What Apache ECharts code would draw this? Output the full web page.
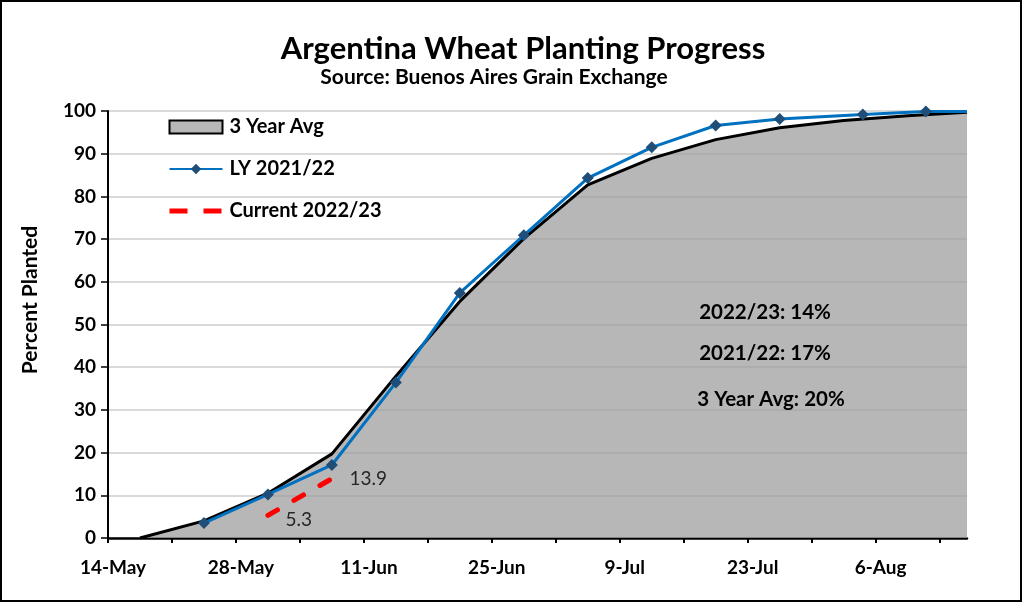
<!DOCTYPE html>
<html>
<head>
<meta charset="utf-8">
<script src="https://cdn.jsdelivr.net/npm/echarts@6/dist/echarts.min.js"></script>
<style>
  html, body { margin: 0; padding: 0; background: #fff; }
  #chart { width: 1022px; height: 602px; box-sizing: border-box; border: 2px solid #000; }
</style>
</head>
<body>
<div id="chart"></div>
<script>
// days counted from 14-May
var tickLabels = ['14-May', '28-May', '11-Jun', '25-Jun', '9-Jul', '23-Jul', '6-Aug'];

var avgDays = [3.5, 10.5, 17.5, 24.5, 31.5, 38.5, 45.5, 52.5, 59.5, 66.5, 73.5, 80.5, 87.5, 94];
var avgValues = [0, 4.0, 10.5, 19.7, 37.9, 55.4, 70.1, 82.7, 88.9, 93.3, 96.1, 97.8, 98.9, 99.7];

var lyDays = [10.5, 17.5, 24.5, 31.5, 38.5, 45.5, 52.5, 59.5, 66.5, 73.5, 82.6, 89.5, 94];
var lyValues = [3.5, 10.2, 17.1, 36.4, 57.4, 70.9, 84.3, 91.5, 96.6, 98.1, 99.2, 99.9, 99.9];

var curDays = [17.5, 24.5];
var curValues = [5.3, 13.9];

var notes = ['2022/23: 14%', '2021/22: 17%', '3 Year Avg: 20%'];

var font = 'Lato, "Liberation Sans", sans-serif';

function pairs(xs, ys) {
    var out = [];
    for (var i = 0; i < xs.length; i++) {
        out.push([xs[i], ys[i]]);
    }
    return out;
}

var lyData = pairs(lyDays, lyValues);
// last point only carries the line to the axis end
lyData[lyData.length - 1] = { value: lyData[lyData.length - 1], symbol: 'none' };

var curData = pairs(curDays, curValues);
curData[0] = { value: curData[0], label: { offset: [0, 5] } };

var tickValues = [];
var labelValues = [];
for (var i = 0; i < tickLabels.length; i++) {
    labelValues.push(i * 14);
    tickValues.push(i * 14, i * 14 + 7);
}

function note(text, x, y, size) {
    return {
        type: 'text', x: x, y: y, z: 100,
        style: { text: text, align: 'center', verticalAlign: 'middle', font: 'bold ' + size + 'px ' + font, fill: '#000' }
    };
}

var myChart = echarts.init(document.getElementById('chart'));

option = {
    animation: false,
    grid: { left: 106, right: 53, top: 109, bottom: 62 },
    legend: {
        orient: 'vertical',
        left: 165,
        top: 115,
        padding: 0,
        itemWidth: 53,
        itemHeight: 13,
        itemGap: 22,
        textStyle: { fontFamily: font, fontWeight: 'bold', fontSize: 20, color: '#000', padding: [0, 0, 0, 2] },
        data: [
            { name: '3 Year Avg', icon: 'rect', itemStyle: { color: '#b7b7b7', borderColor: '#000', borderWidth: 2 } },
            { name: 'LY 2021/22' },
            { name: 'Current 2022/23', itemStyle: { opacity: 0 }, lineStyle: { type: [18, 16], cap: 'butt', width: 5 } }
        ]
    },
    xAxis: {
        type: 'value',
        min: 0,
        max: 94,
        splitLine: { show: false },
        axisLine: { lineStyle: { color: '#000', width: 2.5 } },
        axisTick: { length: 5, lineStyle: { color: '#000', width: 2 }, customValues: tickValues },
        axisLabel: {
            customValues: labelValues,
            margin: 20,
            padding: [0, 0, 0, 10],
            fontFamily: font, fontWeight: 'bold', fontSize: 19, color: '#000',
            formatter: function (v) {
                return tickLabels[Math.round(v / 14)] || '';
            }
        }
    },
    yAxis: {
        type: 'value',
        min: 0,
        max: 100,
        interval: 10,
        axisLine: { show: true, lineStyle: { color: '#000', width: 2 } },
        axisTick: { show: true, length: 7, lineStyle: { color: '#000', width: 1.5 } },
        axisLabel: { margin: 12, fontFamily: font, fontWeight: 'bold', fontSize: 19, color: '#000' },
        splitLine: { lineStyle: { color: '#d9d9d9', width: 2 } }
    },
    series: [
        {
            name: '3 Year Avg',
            type: 'line',
            data: pairs(avgDays, avgValues),
            symbol: 'none',
            lineStyle: { color: '#000', width: 3 },
            itemStyle: { color: '#b7b7b7' },
            areaStyle: { color: 'rgb(158,158,158)', opacity: 0.74 },
            z: 1
        },
        {
            name: 'LY 2021/22',
            type: 'line',
            data: lyData,
            symbol: 'diamond',
            symbolSize: 12,
            lineStyle: { color: '#0070c0', width: 3 },
            itemStyle: { color: '#1f4e79' },
            z: 3
        },
        {
            name: 'Current 2022/23',
            type: 'line',
            data: curData,
            symbol: 'circle',
            symbolSize: 1,
            showSymbol: true,
            lineStyle: { color: '#ff0000', width: 5, type: [11, 19], cap: 'round' },
            itemStyle: { color: '#ff0000', opacity: 0 },
            label: {
                show: true,
                position: 'right',
                distance: 17,
                fontFamily: font,
                fontSize: 19,
                color: '#262626',
                opacity: 1,
                formatter: function (p) { return p.value[1].toFixed(1); }
            },
            z: 4
        }
    ],
    graphic: [
        note('Argentina Wheat Planting Progress', 521, 47, 31),
        note('Source: Buenos Aires Grain Exchange', 492, 75, 21),
        {
            type: 'text', x: 28, y: 298, rotation: Math.PI / 2, z: 100,
            style: { text: 'Percent Planted', align: 'center', verticalAlign: 'middle', font: 'bold 21px ' + font, fill: '#000' }
        },
        note(notes[0], 763, 310, 20.5),
        note(notes[1], 763, 351, 20.5),
        note(notes[2], 769, 397, 20.5)
    ]
};

myChart.setOption(option);
</script>
</body>
</html>
